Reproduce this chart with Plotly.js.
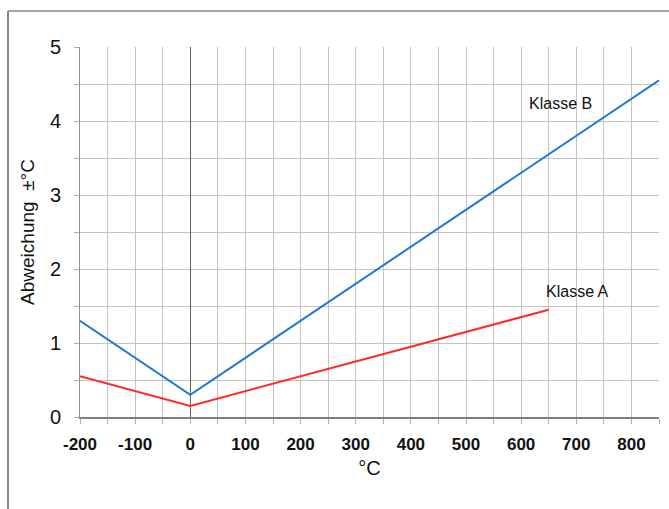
<!DOCTYPE html>
<html>
<head>
<meta charset="utf-8">
<script src="https://cdn.plot.ly/plotly-3.0.1.min.js"></script>
<style>html,body{margin:0;padding:0;background:#fff}#chart{width:669px;height:509px}</style>
</head>
<body>
<div id="chart"></div>
<script>
const temperatureA = [-200, 0, 650];
const deviationA = [0.55, 0.15, 1.45];
const temperatureB = [-200, 0, 850];
const deviationB = [1.3, 0.3, 4.55];
const xTickValues = [-200, -100, 0, 100, 200, 300, 400, 500, 600, 700, 800];
const xTickLabels = ["-200", "-100", "0", "100", "200", "300", "400", "500", "600", "700", "800"];
const yTickValues = [0, 1, 2, 3, 4, 5];
const yTickLabels = ["0", "1", "2", "3", "4", "5"];
const labelA = "Klasse A";
const labelB = "Klasse B";
const xTitle = "°C";
const yTitle = "Abweichung&nbsp;&nbsp;±°C";

const L = 80, R = 10, T = 47, B = 92, W = 669, H = 509;
const pw = W - L - R, ph = H - T - B;
const frameX = (8 - L) / pw;
const frameY = 1 + (T - 11) / ph;

const traces = [
  {x: temperatureB, y: deviationB, mode: 'lines', line: {color: '#2277d4', width: 2}, hoverinfo: 'skip'},
  {x: temperatureA, y: deviationA, mode: 'lines', line: {color: '#ff2a2a', width: 2}, hoverinfo: 'skip'}
];

const layout = {
  width: W, height: H,
  margin: {l: L, r: R, t: T, b: B, pad: 0},
  paper_bgcolor: '#fff', plot_bgcolor: '#fff',
  showlegend: false,
  font: {family: 'Liberation Sans, Arial, sans-serif', color: '#111'},
  xaxis: {
    range: [-200, 850], tickmode: 'array', tickvals: xTickValues, ticktext: xTickLabels,
    showgrid: true, gridcolor: '#c4c4c4', gridwidth: 1,
    zeroline: true, zerolinecolor: '#606060', zerolinewidth: 1,
    showline: true, linecolor: '#808080', linewidth: 2,
    ticks: 'outside', ticklen: 5, tickcolor: '#b0b0b0',
    minor: {dtick: 50, tick0: 0, showgrid: true, gridcolor: '#c4c4c4', ticks: 'outside', ticklen: 5, tickcolor: '#b0b0b0'},
    tickfont: {size: 17, family: 'Liberation Sans, Arial, sans-serif', weight: 'bold', color: '#111'},
    ticklabelstandoff: 6,
    title: {text: xTitle, font: {size: 20, color: '#111'}, standoff: 8},
    fixedrange: true
  },
  yaxis: {
    range: [0, 5], tickmode: 'array', tickvals: yTickValues, ticktext: yTickLabels,
    showgrid: true, gridcolor: '#c4c4c4', gridwidth: 1,
    zeroline: false,
    showline: true, linecolor: '#909090', linewidth: 1,
    ticks: 'outside', ticklen: 5, tickcolor: '#b0b0b0',
    minor: {dtick: 0.5, tick0: 0, showgrid: true, gridcolor: '#c4c4c4', ticks: 'outside', ticklen: 5, tickcolor: '#b0b0b0'},
    tickfont: {size: 20, color: '#111'},
    ticklabelstandoff: 9,
    title: {text: yTitle, font: {size: 19, color: '#111'}, standoff: 10},
    fixedrange: true
  },
  annotations: [
    {x: 672, y: 4.24, xref: 'x', yref: 'y', text: labelB, showarrow: false, font: {size: 16, color: '#111'}},
    {x: 703, y: 1.70, xref: 'x', yref: 'y', text: labelA, showarrow: false, font: {size: 16, color: '#111'}}
  ],
  shapes: [
    {type: 'line', xref: 'paper', yref: 'paper', x0: frameX, x1: frameX, y0: -1, y1: frameY, line: {color: '#888', width: 2}},
    {type: 'line', xref: 'paper', yref: 'paper', x0: frameX, x1: 1.2, y0: frameY, y1: frameY, line: {color: '#888', width: 1.5}}
  ]
};

Plotly.newPlot('chart', traces, layout, {staticPlot: true, displayModeBar: false});
</script>
</body>
</html>
